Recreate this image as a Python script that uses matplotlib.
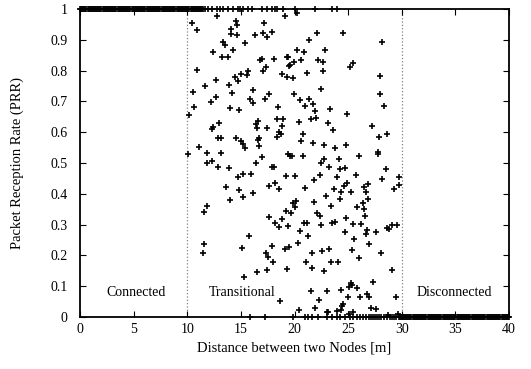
import matplotlib
matplotlib.use('Agg')
import matplotlib.pyplot as plt

plt.rcParams['font.family'] = ['Liberation Serif', 'DejaVu Serif']

# points sitting on PRR = 1 (solid band up to ~11.5 m, then single ones)
top_x = [0.0, 0.1, 0.2, 0.3, 0.4, 0.5, 0.6, 0.7, 0.8, 0.9,
         1.0, 1.1, 1.2, 1.3, 1.4, 1.5, 1.6, 1.7, 1.8, 1.9,
         2.0, 2.1, 2.2, 2.3, 2.4, 2.5, 2.6, 2.7, 2.8, 2.9,
         3.0, 3.1, 3.2, 3.3, 3.4, 3.5, 3.6, 3.7, 3.8, 3.9,
         4.0, 4.1, 4.2, 4.3, 4.4, 4.5, 4.6, 4.7, 4.8, 4.9,
         5.0, 5.1, 5.2, 5.3, 5.4, 5.5, 5.6, 5.7, 5.8, 5.9,
         6.0, 6.1, 6.2, 6.3, 6.4, 6.5, 6.6, 6.7, 6.8, 6.9,
         7.0, 7.1, 7.2, 7.3, 7.4, 7.5, 7.6, 7.7, 7.8, 7.9,
         8.0, 8.1, 8.2, 8.3, 8.4, 8.5, 8.6, 8.7, 8.8, 8.9,
         9.0, 9.1, 9.2, 9.3, 9.4, 9.5, 9.6, 9.7, 9.8, 9.9,
         10.0, 10.1, 10.2, 10.3, 10.4, 10.5, 10.6, 10.7, 10.8, 10.9,
         11.0, 11.1, 11.2, 11.3, 11.4, 11.5,
         11.65, 11.96, 12.27, 12.74, 13.05, 13.36, 13.82, 14.29, 14.76, 14.91,
         15.22, 15.69, 16.0, 16.93, 17.4, 17.86, 18.17, 18.33, 18.95, 20.05,
         21.9, 23.45, 23.92]

# points sitting on PRR = 0 (single ones, then solid band from ~29.7 m)
bottom_x = [15.84, 17.24, 19.88, 20.97, 21.28, 21.59, 22.15, 23.05, 23.45,
            23.92, 24.23, 24.7, 25.16, 25.47, 25.79, 26.1, 26.4, 26.7, 26.9,
            27.1, 27.3, 27.5, 27.7, 27.9, 28.1, 28.3, 28.6, 28.9, 29.1, 29.3,
            29.5,
            29.7, 29.8, 29.9,
            30.0, 30.1, 30.2, 30.3, 30.4, 30.5, 30.6, 30.7, 30.8, 30.9,
            31.0, 31.1, 31.2, 31.3, 31.4, 31.5, 31.6, 31.7, 31.8, 31.9,
            32.0, 32.1, 32.2, 32.3, 32.4, 32.5, 32.6, 32.7, 32.8, 32.9,
            33.0, 33.1, 33.2, 33.3, 33.4, 33.5, 33.6, 33.7, 33.8, 33.9,
            34.0, 34.1, 34.2, 34.3, 34.4, 34.5, 34.6, 34.7, 34.8, 34.9,
            35.0, 35.1, 35.2, 35.3, 35.4, 35.5, 35.6, 35.7, 35.8, 35.9,
            36.0, 36.1, 36.2, 36.3, 36.4, 36.5, 36.6, 36.7, 36.8, 36.9,
            37.0, 37.1, 37.2, 37.3, 37.4, 37.5, 37.6, 37.7, 37.8, 37.9,
            38.0, 38.1, 38.2, 38.3, 38.4, 38.5, 38.6, 38.7, 38.8, 38.9,
            39.0, 39.1, 39.2, 39.3, 39.4, 39.5, 39.6, 39.7, 39.8, 39.9,
            40.0]

# points in the transitional region (distance, PRR)
transitional_pts = [
    (12.74, 0.978), (10.41, 0.956), (10.87, 0.932), (14.51, 0.962), (14.60, 0.947),
    (14.07, 0.935), (14.07, 0.920), (14.60, 0.915), (17.18, 0.953), (17.09, 0.921),
    (17.46, 0.909), (17.86, 0.925), (16.31, 0.915), (13.36, 0.893), (13.48, 0.884),
    (15.38, 0.891), (14.29, 0.867), (12.36, 0.861), (13.20, 0.845), (13.76, 0.843),
    (16.78, 0.834), (16.93, 0.838), (18.11, 0.839), (19.32, 0.845), (10.87, 0.802),
    (17.09, 0.799), (17.30, 0.813), (19.51, 0.816), (18.79, 0.788), (19.26, 0.778),
    (12.67, 0.768), (14.41, 0.778), (14.97, 0.789), (15.53, 0.786), (15.69, 0.798),
    (14.76, 0.766), (13.92, 0.754), (11.68, 0.750), (10.56, 0.731), (16.16, 0.737),
    (17.65, 0.725), (14.20, 0.726), (17.24, 0.707), (12.67, 0.715), (12.21, 0.699),
    (15.84, 0.708), (16.09, 0.696), (10.66, 0.682), (13.98, 0.680), (14.82, 0.671),
    (18.48, 0.681), (10.19, 0.656), (16.56, 0.636), (16.40, 0.627), (12.36, 0.618),
    (12.30, 0.612), (12.92, 0.629), (16.47, 0.614), (17.40, 0.615), (18.39, 0.644),
    (18.89, 0.642), (18.79, 0.620), (18.57, 0.602), (18.70, 0.593), (18.33, 0.583),
    (12.83, 0.580), (13.11, 0.580), (14.51, 0.580), (15.00, 0.572), (16.68, 0.582),
    (16.59, 0.575), (15.22, 0.562), (16.68, 0.556), (15.38, 0.548), (11.12, 0.553),
    (10.09, 0.528), (11.81, 0.531), (13.11, 0.532), (19.41, 0.529), (11.81, 0.499),
    (12.27, 0.506), (12.89, 0.486), (13.89, 0.484), (16.40, 0.499), (16.96, 0.518),
    (18.11, 0.488), (17.89, 0.486),
    (19.11, 0.978), (20.25, 0.986), (22.12, 0.921), (24.48, 0.923), (28.18, 0.892),
    (21.31, 0.898), (20.19, 0.866), (20.88, 0.859), (22.86, 0.868), (19.41, 0.844),
    (19.97, 0.827), (19.60, 0.817), (20.60, 0.836), (22.21, 0.834), (22.68, 0.827),
    (25.47, 0.824), (25.19, 0.812), (19.88, 0.777), (21.13, 0.792), (22.62, 0.799),
    (27.96, 0.781), (22.49, 0.741), (19.97, 0.725), (27.96, 0.723), (20.50, 0.704),
    (21.37, 0.708), (21.00, 0.686), (21.69, 0.693), (28.30, 0.685), (21.87, 0.670),
    (23.30, 0.675), (24.91, 0.660), (21.50, 0.642), (21.97, 0.645), (20.38, 0.632),
    (23.08, 0.631), (20.78, 0.593), (23.61, 0.607), (27.18, 0.620), (27.87, 0.585),
    (28.58, 0.594), (20.63, 0.572), (21.69, 0.565), (22.77, 0.557), (23.79, 0.550),
    (24.82, 0.557), (27.74, 0.537), (27.78, 0.530), (19.57, 0.524), (19.76, 0.523),
    (20.78, 0.522), (22.71, 0.512), (22.43, 0.501), (24.11, 0.512), (25.97, 0.523),
    (23.21, 0.488), (24.20, 0.481), (24.73, 0.484), (28.52, 0.480),
    (19.20, 0.458), (14.69, 0.456), (15.16, 0.463), (15.94, 0.463), (13.58, 0.421),
    (14.85, 0.412), (16.09, 0.403), (15.16, 0.391), (13.98, 0.380), (17.65, 0.424),
    (18.20, 0.436), (18.57, 0.415), (11.87, 0.361), (11.56, 0.340), (19.20, 0.344),
    (17.58, 0.325), (18.83, 0.319), (18.20, 0.304), (18.57, 0.293), (19.41, 0.295),
    (15.78, 0.262), (11.56, 0.237), (11.49, 0.207), (15.10, 0.224), (17.86, 0.231),
    (19.11, 0.221), (19.51, 0.226), (17.33, 0.207), (17.55, 0.194), (17.96, 0.179),
    (19.26, 0.157), (17.46, 0.153), (16.52, 0.146), (15.28, 0.129), (18.64, 0.053),
    (20.07, 0.459), (21.84, 0.444), (22.40, 0.461), (23.92, 0.456), (25.72, 0.460),
    (28.18, 0.447), (29.73, 0.454), (29.76, 0.430), (29.29, 0.417), (20.97, 0.420),
    (23.70, 0.415), (24.60, 0.425), (24.32, 0.406), (24.91, 0.436), (25.28, 0.407),
    (26.44, 0.423), (26.87, 0.432), (26.68, 0.406), (22.90, 0.393), (24.26, 0.383),
    (26.87, 0.383), (21.78, 0.374), (20.16, 0.377), (19.88, 0.369), (20.04, 0.358),
    (23.36, 0.362), (26.35, 0.369), (25.79, 0.356), (26.50, 0.351), (19.66, 0.338),
    (22.06, 0.337), (22.34, 0.327), (26.59, 0.328), (24.79, 0.322), (20.88, 0.306),
    (21.18, 0.306), (22.49, 0.300), (23.45, 0.306), (23.77, 0.307), (25.47, 0.301),
    (26.19, 0.301), (20.50, 0.280), (21.28, 0.262), (24.70, 0.277), (26.65, 0.269),
    (26.77, 0.282), (27.56, 0.275), (28.58, 0.290), (28.77, 0.285), (29.11, 0.298),
    (29.58, 0.299), (25.57, 0.252), (26.97, 0.238), (20.29, 0.241), (21.59, 0.207),
    (22.58, 0.214), (23.21, 0.221), (25.38, 0.217), (25.97, 0.191), (28.05, 0.207),
    (21.09, 0.178), (21.59, 0.158), (23.36, 0.178), (24.07, 0.178), (22.77, 0.150),
    (29.08, 0.152), (25.23, 0.111), (25.32, 0.104), (25.10, 0.096), (25.85, 0.095),
    (27.27, 0.115), (21.50, 0.084), (22.99, 0.084), (24.35, 0.088), (24.98, 0.065),
    (26.10, 0.065), (26.77, 0.075), (26.97, 0.065), (29.45, 0.066), (22.30, 0.054),
    (24.54, 0.042), (24.38, 0.036), (27.09, 0.029), (27.59, 0.027), (21.87, 0.028),
    (20.38, 0.023), (23.92, 0.020), (24.35, 0.022), (23.14, 0.015), (25.41, 0.017),
    (25.10, 0.009), (29.67, 0.010), (28.73, 0.006), (23.05, 0.017),
]

region_names = ['Connected', 'Transitional', 'Disconnected']
region_x = [5.2, 15.1, 34.9]
region_y = 0.08
boundaries = [10, 30]

fig = plt.figure(figsize=(5.31, 3.69), dpi=100)
ax = fig.add_axes([0.1507, 0.1409, 0.808, 0.8347])

tx = [p[0] for p in transitional_pts]
ty = [p[1] for p in transitional_pts]

mk = dict(marker='+', color='black', linestyle='none', markersize=5,
          markeredgewidth=1.2, clip_on=False, zorder=3)
ax.plot(top_x, [1] * len(top_x), **mk)
ax.plot(bottom_x, [0] * len(bottom_x), **mk)
ax.plot(tx, ty, **mk)

for b in boundaries:
    ax.axvline(b, color='#808080', linestyle=':', linewidth=0.9, zorder=1)

for name, x in zip(region_names, region_x):
    ax.text(x, region_y, name, ha='center', va='center', fontsize=10)

ax.set_xlim(0, 40)
ax.set_ylim(0, 1)
ax.set_xticks(range(0, 41, 5))
ax.set_yticks([i / 10 for i in range(11)])
ax.set_yticklabels(['0', '0.1', '0.2', '0.3', '0.4', '0.5', '0.6', '0.7',
                    '0.8', '0.9', '1'])
ax.tick_params(direction='in', length=4, width=0.8, top=True, right=True,
               labelsize=10)
ax.tick_params(axis='x', pad=4)
ax.tick_params(axis='y', pad=9)
for s in ax.spines.values():
    s.set_linewidth(1.3)

ax.set_xlabel('Distance between two Nodes [m]', fontsize=10.5)
ax.set_ylabel('Packet Reception Rate (PRR)', fontsize=10.5)
ax.xaxis.set_label_coords(0.5, -0.081)
ax.yaxis.set_label_coords(-0.13, 0.5)

fig.savefig('out.png', dpi=100)
